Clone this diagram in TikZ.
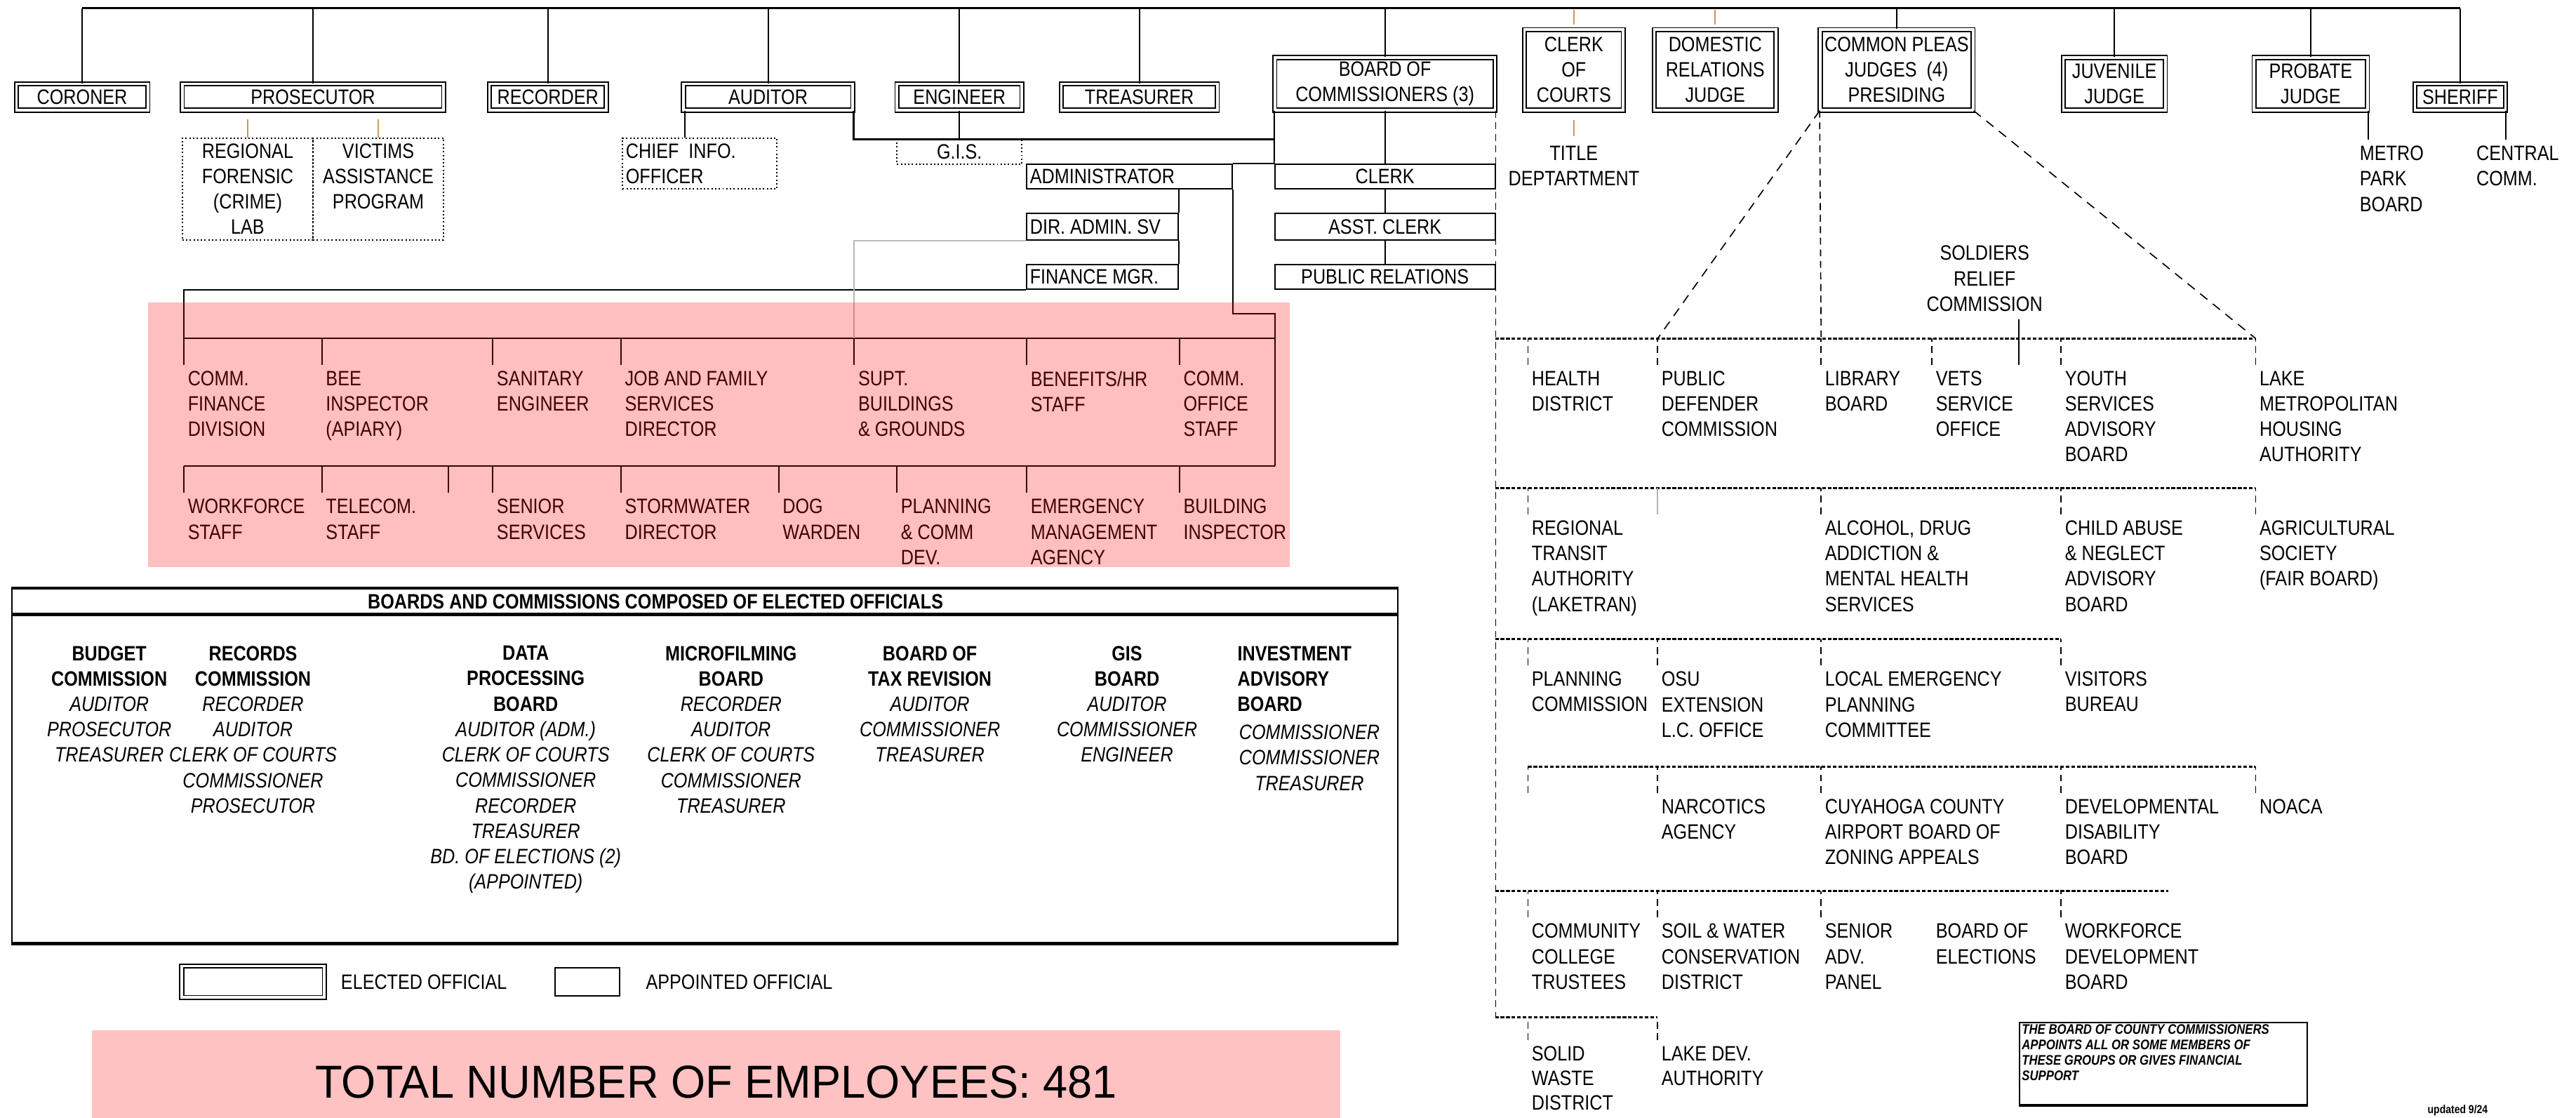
\documentclass[tikz,border=0pt]{standalone}
\usepackage{fontspec}
\setmainfont{Liberation Sans}[FakeStretch=0.85]
\newfontfamily\totalfont{Liberation Sans}[FakeStretch=0.96]
\usetikzlibrary{positioning}

\definecolor{stubtan}{RGB}{205,150,95}
\definecolor{totalpink}{RGB}{255,194,194}

\tikzset{
  elected/.style={draw, line width=0.55pt, double, double distance=1.1pt, inner sep=0pt, align=center},
  appointed/.style={draw, line width=0.6pt, inner sep=0pt},
  dotbox/.style={draw, densely dotted, line width=0.6pt, inner sep=0pt},
  item/.style={anchor=north west, inner xsep=1.5pt, inner ysep=2.5pt, align=left},
  member/.style={anchor=north, inner ysep=2.5pt, align=center},
  link/.style={line width=0.6pt},
  bus/.style={line width=1pt},
  dbus/.style={line width=0.9pt, dash pattern=on 1.6pt off 0.8pt},
  ddrop/.style={line width=0.5pt, dash pattern=on 3pt off 2pt},
  dline/.style={line width=0.5pt, dash pattern=on 4pt off 3pt},
  stub/.style={line width=0.6pt, draw=stubtan},
}

\begin{document}
\begin{tikzpicture}[x=0.025cm, y=-0.025cm, font=\fontsize{9}{11}\selectfont]
\useasboundingbox (0,0) rectangle (1568,680);

% Elected officials
\node[elected, minimum width=2cm, minimum height=0.4cm] (coroner) at (50,59) {CORONER};
\node[elected, minimum width=3.975cm, minimum height=0.4cm] (prosecutor) at (190.5,59) {PROSECUTOR};
\node[elected, minimum width=1.775cm, minimum height=0.4cm] (recorder) at (333.5,59) {RECORDER};
\node[elected, minimum width=2.575cm, minimum height=0.4cm] (auditor) at (467.5,59) {AUDITOR};
\node[elected, minimum width=1.9cm, minimum height=0.4cm] (engineer) at (584,59) {ENGINEER};
\node[elected, minimum width=2.375cm, minimum height=0.4cm] (treasurer) at (693.5,59) {TREASURER};
\node[elected, minimum width=3.35cm, minimum height=0.8cm] (board) at (843,51) {BOARD OF\\COMMISSIONERS (3)};
\node[elected, minimum width=1.5cm, minimum height=1.225cm] (clerkcourts) at (958,42.5) {CLERK\\OF\\COURTS};
\node[elected, minimum width=1.85cm, minimum height=1.225cm] (domestic) at (1044,42.5) {DOMESTIC\\RELATIONS\\JUDGE};
\node[elected, minimum width=2.325cm, minimum height=1.225cm] (pleas) at (1154.5,42.5) {COMMON PLEAS\\JUDGES \ (4)\\PRESIDING};
\node[elected, minimum width=1.55cm, minimum height=0.8cm] (juvenile) at (1287,51) {JUVENILE\\JUDGE};
\node[elected, minimum width=1.725cm, minimum height=0.8cm] (probate) at (1406.5,51) {PROBATE\\JUDGE};
\node[elected, minimum width=1.375cm, minimum height=0.4cm] (sheriff) at (1497.5,59) {SHERIFF};

% Top bus
\coordinate (top) at (0,5);
\draw[bus] (coroner.north |- top) -- (sheriff.north |- top);
\foreach \n in {coroner,prosecutor,recorder,auditor,engineer,treasurer,board,pleas,juvenile,probate,sheriff}
  \draw[link] (\n.north) -- (\n.north |- top);
\draw[stub] ([yshift=2pt]clerkcourts.north) -- ++(0,-9);
\draw[stub] ([yshift=2pt]domestic.north) -- ++(0,-9);

% Prosecutor and auditor offices
\node[dotbox, minimum width=1.9875cm, minimum height=1.55cm] (forensic) at (150.75,115) {};
\node[dotbox, minimum width=1.9875cm, minimum height=1.55cm] (victims) at (230.25,115) {};
\node[member] (forensictxt) at (forensic.north) {REGIONAL\\FORENSIC\\(CRIME)\\LAB};
\node[member] (victimstxt) at (victims.north) {VICTIMS\\ASSISTANCE\\PROGRAM};
\draw[stub] (forensic.north) -- ++(0,-11);
\draw[stub] (victims.north) -- ++(0,-11);

\node[dotbox, minimum width=2.35cm, minimum height=0.775cm] (chiefinfo) at (426,99.5) {};
\node[item] (chieftxt) at (chiefinfo.north west) {CHIEF\ \ INFO.\\OFFICER};
\draw[link] ([xshift=1pt]auditor.south west) -- ([xshift=1pt]auditor.south west |- chiefinfo.north);

\node[dotbox, minimum width=1.9cm, minimum height=0.375cm] (gis) at (584,92.5) {G.I.S.};

% Commissioners' staff
\node[appointed, minimum width=3.125cm, minimum height=0.375cm] (admin) at (687.5,107.5) {};
\node[anchor=west, inner xsep=1.5pt] (admintxt) at (admin.west) {ADMINISTRATOR};
\node[appointed, minimum width=2.3cm, minimum height=0.4cm] (diradmin) at (671,138) {};
\node[anchor=west, inner xsep=1.5pt] (diradmintxt) at (diradmin.west) {DIR. ADMIN. SV};
\node[appointed, minimum width=2.3cm, minimum height=0.375cm] (finance) at (671,168.5) {};
\node[anchor=west, inner xsep=1.5pt] (financetxt) at (finance.west) {FINANCE MGR.};
\node[appointed, minimum width=3.35cm, minimum height=0.375cm] (clerk) at (843,107.5) {CLERK};
\node[appointed, minimum width=3.35cm, minimum height=0.4cm] (asstclerk) at (843,138) {ASST. CLERK};
\node[appointed, minimum width=3.35cm, minimum height=0.375cm] (pubrel) at (843,168.5) {PUBLIC RELATIONS};

\draw[link] (engineer.south) -- (gis.north);
\draw[link, line width=0.9pt] (auditor.south east) |- (board.south west |- gis.north);
\draw[link] (board.south west) -- (clerk.north west);
\draw[link] (admin.north east) -- (clerk.north west);
\draw[link] (board.south) -- (clerk.north);
\draw[link] (clerk.south) -- (asstclerk.north);
\draw[link] (asstclerk.south) -- (pubrel.north);
\draw[link] (diradmin.north east) -- (diradmin.north east |- admin.south);
\draw[link] (diradmin.south east) -- (finance.north east);

% Departments
\coordinate (ubusl) at (112,206);
\coordinate (ubusr) at (776,206);
\coordinate (lbusl) at (112,283.6);
\coordinate (lbusr) at (776,283.6);
\draw[link] (ubusl) -- (ubusr);
\draw[link] (lbusl) -- (lbusr);
\draw[link] (finance.south west) -| (ubusl);
\draw[link] (admin.south east) |- (776,191) -- (lbusr);
\draw[gray!55, line width=0.6pt] (diradmin.south west) -| (520,206);

\foreach \x/\n/\txt in {112/cfin/{COMM.\\FINANCE\\DIVISION}, 196/bee/{BEE\\INSPECTOR\\(APIARY)},
    300/sanitary/{SANITARY\\ENGINEER}, 378/jfs/{JOB AND FAMILY\\SERVICES\\DIRECTOR},
    520/supt/{SUPT.\\BUILDINGS\\\& GROUNDS}, 625/benefits/{BENEFITS/HR\\STAFF},
    718/commoffice/{COMM.\\OFFICE\\STAFF}}
{
  \node[item] (\n) at (\x,222) {\txt};
  \draw[link] (\n.north west) -- (\n.north west |- ubusl);
}
\foreach \x/\n/\txt in {112/workforce/{WORKFORCE\\STAFF}, 196/telecom/{TELECOM.\\STAFF},
    300/senior/{SENIOR\\SERVICES}, 378/storm/{STORMWATER\\DIRECTOR}, 474/dog/{DOG\\WARDEN},
    546/plancomm/{PLANNING\\\& COMM\\DEV.}, 625/ema/{EMERGENCY\\MANAGEMENT\\AGENCY},
    718/building/{BUILDING\\INSPECTOR}}
{
  \node[item] (\n) at (\x,300) {\txt};
  \draw[link] (\n.north west) -- (\n.north west |- lbusl);
}
\coordinate (blank) at (273,300);
\draw[link] (blank) -- (blank |- lbusl);

\fill[red, opacity=0.25] (90,184) rectangle (785,345);

% Boards appointed or funded
\draw[ddrop] (board.south east) -- (board.south east |- 0,619);

\draw[dbus] (910,206) -- (1373,206);
\foreach \x/\n/\txt in {930/health/{HEALTH\\DISTRICT}, 1009/pubdef/{PUBLIC\\DEFENDER\\COMMISSION},
    1108.5/library/{LIBRARY\\BOARD}, 1176/vets/{VETS\\SERVICE\\OFFICE},
    1254.6/youth/{YOUTH\\SERVICES\\ADVISORY\\BOARD}, 1373/lmha/{LAKE\\METROPOLITAN\\HOUSING\\AUTHORITY}}
{
  \node[item] (\n) at (\x,222) {\txt};
  \draw[ddrop] (\n.north west) -- ++(0,-16);
}
\draw[dline] (pleas.south west) -- (pubdef.north west |- 0,206);
\draw[dline] (pleas.south east) -- (lmha.north west |- 0,206);
\draw[ddrop] (pleas.south west) -- (library.north west |- 0,206);

\node[align=center] (soldiers) at (1208,169.5) {SOLDIERS\\RELIEF\\COMMISSION};
\coordinate (soldiersend) at (1229,222);
\draw[link] (soldiers.south -| soldiersend) -- (soldiersend);

\draw[dbus] (910,297) -- (1373,297);
\foreach \x/\n/\txt in {930/rta/{REGIONAL\\TRANSIT\\AUTHORITY\\(LAKETRAN)},
    1108.5/adamhs/{ALCOHOL, DRUG\\ADDICTION \&\\MENTAL HEALTH\\SERVICES},
    1254.6/childabuse/{CHILD ABUSE\\\& NEGLECT\\ADVISORY\\BOARD}, 1373/agri/{AGRICULTURAL\\SOCIETY\\(FAIR BOARD)}}
{
  \node[item] (\n) at (\x,313) {\txt};
  \draw[ddrop] (\n.north west) -- ++(0,-16);
}
\coordinate (grayend) at (1009,313);
\draw[gray!60, line width=0.5pt] (grayend) -- ++(0,-16);

\draw[dbus] (910,389) -- (1254.6,389);
\foreach \x/\n/\txt in {930/planning/{PLANNING\\COMMISSION}, 1009/osu/{OSU\\EXTENSION\\L.C. OFFICE},
    1108.5/lepc/{LOCAL EMERGENCY\\PLANNING\\COMMITTEE}, 1254.6/visitors/{VISITORS\\BUREAU}}
{
  \node[item] (\n) at (\x,405) {\txt};
  \draw[ddrop] (\n.north west) -- ++(0,-16);
}

\draw[dbus] (930,466.6) -- (1373,466.6);
\foreach \x/\n/\txt in {1009/narcotics/{NARCOTICS\\AGENCY},
    1108.5/airport/{CUYAHOGA COUNTY\\AIRPORT BOARD OF\\ZONING APPEALS},
    1254.6/devdis/{DEVELOPMENTAL\\DISABILITY\\BOARD}, 1373/noaca/{NOACA}}
{
  \node[item] (\n) at (\x,482.6) {\txt};
  \draw[ddrop] (\n.north west) -- ++(0,-16);
}
\coordinate (blankdrop) at (930,482.6);
\draw[ddrop] (blankdrop) -- ++(0,-16);

\draw[dbus] (910,542.4) -- (1320,542.4);
\foreach \x/\n/\txt in {930/ccc/{COMMUNITY\\COLLEGE\\TRUSTEES}, 1009/soil/{SOIL \& WATER\\CONSERVATION\\DISTRICT},
    1108.5/senioradv/{SENIOR\\ADV.\\PANEL}, 1254.6/wfdev/{WORKFORCE\\DEVELOPMENT\\BOARD}}
{
  \node[item] (\n) at (\x,558.4) {\txt};
  \draw[ddrop] (\n.north west) -- ++(0,-16);
}
\node[item] (boe) at (1176,558.4) {BOARD OF\\ELECTIONS};

\draw[dbus] (910,619) -- (1009,619);
\foreach \x/\n/\txt in {930/solid/{SOLID\\WASTE\\DISTRICT}, 1009/lakedev/{LAKE DEV.\\AUTHORITY}}
{
  \node[item, font=\fontsize{9}{10.6}\selectfont] (\n) at (\x,633) {\txt};
  \draw[ddrop] (\n.north west) -- ++(0,-14);
}

% Other offices
\node[item] (metro) at (1434,85) {METRO\\PARK\\BOARD};
\draw[link] (probate.south east) -- (probate.south east |- metro.north);
\node[item] (central) at (1505,85) {CENTRAL\\COMM.};
\draw[link] (sheriff.south east) -- (sheriff.south east |- central.north);
\node[member] (title) at (958,85) {TITLE\\DEPTARTMENT};
\draw[stub] ([yshift=-4pt]clerkcourts.south) -- ++(0,10);

% Boards and commissions of elected officials
\node[draw, line width=0.6pt, anchor=north west, minimum width=21.075cm, minimum height=5.385cm, inner sep=0pt] (boards) at (7,358) {};
\draw[line width=1.3pt] (boards.north west) -- (boards.north east);
\draw[line width=1.3pt] ([yshift=-0.4cm]boards.north west) -- ([yshift=-0.4cm]boards.north east);
\draw[line width=1.3pt] (boards.south west) -- (boards.south east);
\node[font=\bfseries\fontsize{9}{11}\selectfont] (bchead) at (399,366) {BOARDS AND COMMISSIONS COMPOSED OF ELECTED OFFICIALS};

\node[member] (budget) at (66.5,389.3) {\textbf{BUDGET}\\\textbf{COMMISSION}\\\textit{AUDITOR}\\\textit{PROSECUTOR}\\\textit{TREASURER}};
\node[member] (records) at (154,389.3) {\textbf{RECORDS}\\\textbf{COMMISSION}\\\textit{RECORDER}\\\textit{AUDITOR}\\\textit{CLERK OF COURTS}\\\textit{COMMISSIONER}\\\textit{PROSECUTOR}};
\node[member] (dataproc) at (320,389.3) {\textbf{DATA}\\\textbf{PROCESSING}\\\textbf{BOARD}\\\textit{AUDITOR (ADM.)}\\\textit{CLERK OF COURTS}\\\textit{COMMISSIONER}\\\textit{RECORDER}\\\textit{TREASURER}\\\textit{BD. OF ELECTIONS (2)}\\\textit{(APPOINTED)}};
\node[member] (microfilm) at (445,389.3) {\textbf{MICROFILMING}\\\textbf{BOARD}\\\textit{RECORDER}\\\textit{AUDITOR}\\\textit{CLERK OF COURTS}\\\textit{COMMISSIONER}\\\textit{TREASURER}};
\node[member] (taxrev) at (566,389.3) {\textbf{BOARD OF}\\\textbf{TAX REVISION}\\\textit{AUDITOR}\\\textit{COMMISSIONER}\\\textit{TREASURER}};
\node[member] (gisboard) at (686,389.3) {\textbf{GIS}\\\textbf{BOARD}\\\textit{AUDITOR}\\\textit{COMMISSIONER}\\\textit{ENGINEER}};
\node[item, inner xsep=0pt] (invest) at (753,389.3) {\textbf{INVESTMENT}\\\textbf{ADVISORY}\\\textbf{BOARD}};
\node[member] (investlist) at (797,437.4) {\textit{COMMISSIONER}\\\textit{COMMISSIONER}\\\textit{TREASURER}};

% Legend
\node[elected, minimum width=2.17cm, minimum height=0.475cm] (legel) at (154,597.5) {};
\node[right=0.12cm of legel] (legeltxt) {ELECTED OFFICIAL};
\node[appointed, minimum width=0.975cm, minimum height=0.425cm] (legap) at (357.5,597.5) {};
\node[right=0.27cm of legap] (legaptxt) {APPOINTED OFFICIAL};

% Total
\fill[totalpink] (56,627) rectangle (816,685);
\node[font=\totalfont\fontsize{20}{24}\selectfont] (total) at (436,658.5) {TOTAL NUMBER OF EMPLOYEES: 481};

% Note
\node[draw, line width=0.6pt, anchor=north west, minimum width=4.375cm, minimum height=1.25cm, inner sep=0pt] (notebox) at (1229,622) {};
\draw[line width=1.2pt] (notebox.south west) -- (notebox.south east);
\node[anchor=north west, align=left, inner sep=1pt, font=\bfseries\itshape\fontsize{6}{6.6}\selectfont] (notetxt) at (notebox.north west) {THE BOARD OF COUNTY COMMISSIONERS\\APPOINTS ALL OR SOME MEMBERS OF\\THESE GROUPS OR GIVES FINANCIAL\\SUPPORT};
\node[font=\bfseries\fontsize{5}{6}\selectfont] (updated) at (1496,676) {updated 9/24};

\end{tikzpicture}
\end{document}
